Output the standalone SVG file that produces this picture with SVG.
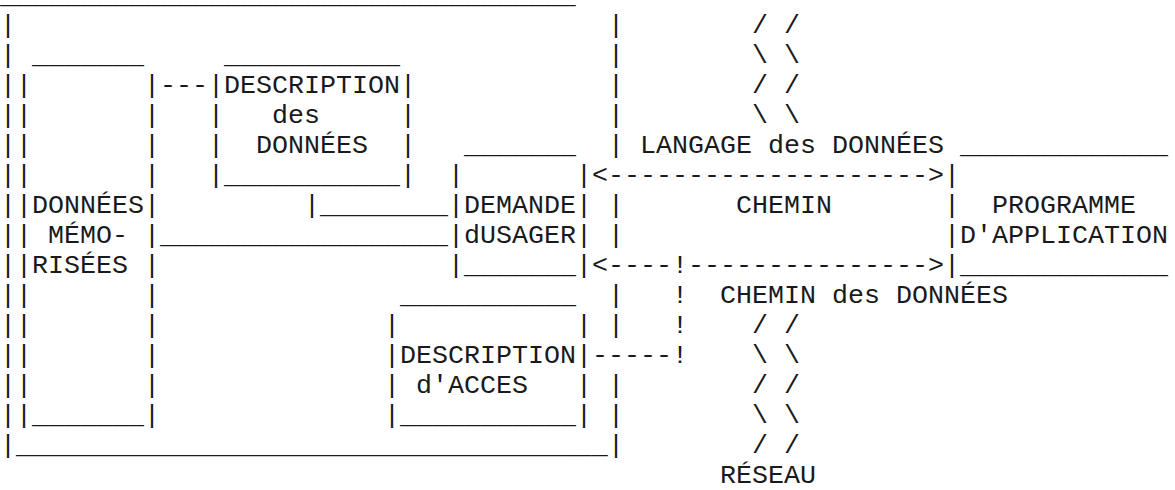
<svg xmlns="http://www.w3.org/2000/svg" width="1175" height="490" viewBox="0 0 1175 490" xml:space="preserve">
  <style>
    /* monospaced grid: 16px per column, 30px per row, baseline = 30*row + 3 */
    .t { font-family: "Courier New", "Nimbus Mono PS", "FreeMono", "Liberation Mono", monospace; font-size: 26.667px; fill: #1a1a1a; white-space: pre; }
  </style>
  <rect width="1175" height="490" fill="#fff"/>

  <!-- outer frame -->
  <g id="cadre">
    <text class="t" x="0" y="3">____________________________________</text>
    <text class="t"><tspan x="0" y="33">|</tspan><tspan x="0" y="63">|</tspan><tspan x="0" y="93">|</tspan><tspan x="0" y="123">|</tspan><tspan x="0" y="153">|</tspan><tspan x="0" y="183">|</tspan><tspan x="0" y="213">|</tspan><tspan x="0" y="243">|</tspan><tspan x="0" y="273">|</tspan><tspan x="0" y="303">|</tspan><tspan x="0" y="333">|</tspan><tspan x="0" y="363">|</tspan><tspan x="0" y="393">|</tspan><tspan x="0" y="423">|</tspan><tspan x="0" y="453">|</tspan></text>
    <text class="t" x="16" y="453">_____________________________________</text>
    <text class="t"><tspan x="608" y="33">|</tspan><tspan x="608" y="63">|</tspan><tspan x="608" y="93">|</tspan><tspan x="608" y="123">|</tspan><tspan x="608" y="153">|</tspan><tspan x="608" y="213">|</tspan><tspan x="608" y="243">|</tspan><tspan x="608" y="303">|</tspan><tspan x="608" y="333">|</tspan><tspan x="608" y="393">|</tspan><tspan x="608" y="423">|</tspan><tspan x="608" y="453">|</tspan></text>
  </g>

  <!-- stored data -->
  <g id="donnees-memorisees">
    <text class="t" x="32" y="63">_______</text>
    <text class="t"><tspan x="16" y="93">|</tspan><tspan x="16" y="123">|</tspan><tspan x="16" y="153">|</tspan><tspan x="16" y="183">|</tspan><tspan x="16" y="213">|</tspan><tspan x="16" y="243">|</tspan><tspan x="16" y="273">|</tspan><tspan x="16" y="303">|</tspan><tspan x="16" y="333">|</tspan><tspan x="16" y="363">|</tspan><tspan x="16" y="393">|</tspan><tspan x="16" y="423">|</tspan></text>
    <text class="t"><tspan x="144" y="93">|</tspan><tspan x="144" y="123">|</tspan><tspan x="144" y="153">|</tspan><tspan x="144" y="183">|</tspan><tspan x="144" y="213">|</tspan><tspan x="144" y="243">|</tspan><tspan x="144" y="273">|</tspan><tspan x="144" y="303">|</tspan><tspan x="144" y="333">|</tspan><tspan x="144" y="363">|</tspan><tspan x="144" y="393">|</tspan><tspan x="144" y="423">|</tspan></text>
    <text class="t" x="32" y="423">_______</text>
    <text class="t" x="32" y="213">DONNÉES</text>
    <text class="t" x="48" y="243">MÉMO-</text>
    <text class="t" x="32" y="273">RISÉES</text>
  </g>

  <!-- data description -->
  <g id="description-donnees">
    <text class="t" x="224" y="63">___________</text>
    <text class="t"><tspan x="208" y="93">|</tspan><tspan x="208" y="123">|</tspan><tspan x="208" y="153">|</tspan><tspan x="208" y="183">|</tspan></text>
    <text class="t"><tspan x="400" y="93">|</tspan><tspan x="400" y="123">|</tspan><tspan x="400" y="153">|</tspan><tspan x="400" y="183">|</tspan></text>
    <text class="t" x="224" y="183">___________</text>
    <text class="t" x="224" y="93">DESCRIPTION</text>
    <text class="t" x="272" y="123">des</text>
    <text class="t" x="256" y="153">DONNÉES</text>
  </g>

  <!-- user request -->
  <g id="demande-usager">
    <text class="t" x="464" y="153">_______</text>
    <text class="t"><tspan x="448" y="183">|</tspan><tspan x="448" y="213">|</tspan><tspan x="448" y="243">|</tspan><tspan x="448" y="273">|</tspan></text>
    <text class="t"><tspan x="576" y="183">|</tspan><tspan x="576" y="213">|</tspan><tspan x="576" y="243">|</tspan><tspan x="576" y="273">|</tspan></text>
    <text class="t" x="464" y="273">_______</text>
    <text class="t" x="464" y="213">DEMANDE</text>
    <text class="t" x="464" y="243">dUSAGER</text>
  </g>

  <!-- access description -->
  <g id="description-acces">
    <text class="t" x="400" y="303">___________</text>
    <text class="t"><tspan x="384" y="333">|</tspan><tspan x="384" y="363">|</tspan><tspan x="384" y="393">|</tspan><tspan x="384" y="423">|</tspan></text>
    <text class="t"><tspan x="576" y="333">|</tspan><tspan x="576" y="363">|</tspan><tspan x="576" y="393">|</tspan><tspan x="576" y="423">|</tspan></text>
    <text class="t" x="400" y="423">___________</text>
    <text class="t" x="400" y="363">DESCRIPTION</text>
    <text class="t" x="416" y="393">d'ACCES</text>
  </g>

  <!-- application program -->
  <g id="programme-application">
    <text class="t" x="960" y="153">_____________</text>
    <text class="t"><tspan x="944" y="183">|</tspan><tspan x="944" y="213">|</tspan><tspan x="944" y="243">|</tspan><tspan x="944" y="273">|</tspan></text>
    <text class="t" x="960" y="273">_____________</text>
    <text class="t" x="992" y="213">PROGRAMME</text>
    <text class="t" x="960" y="243">D'APPLICATION</text>
  </g>

  <!-- network zigzag -->
  <g id="reseau">
    <text class="t" x="752" y="33">/ /</text>
    <text class="t" x="752" y="63">\ \</text>
    <text class="t" x="752" y="93">/ /</text>
    <text class="t" x="752" y="123">\ \</text>
    <text class="t" x="752" y="333">/ /</text>
    <text class="t" x="752" y="363">\ \</text>
    <text class="t" x="752" y="393">/ /</text>
    <text class="t" x="752" y="423">\ \</text>
    <text class="t" x="752" y="453">/ /</text>
    <text class="t" x="720" y="483">RÉSEAU</text>
  </g>

  <!-- links and paths -->
  <g id="connecteurs">
    <text class="t" x="160" y="93">---</text>
    <text class="t" x="304" y="213">|________</text>
    <text class="t" x="160" y="243">__________________</text>
    <text class="t" x="592" y="183">&lt;--------------------&gt;</text>
    <text class="t" x="592" y="273">&lt;----!---------------&gt;</text>
    <text class="t"><tspan x="672" y="303">!</tspan><tspan x="672" y="333">!</tspan></text>
    <text class="t" x="592" y="363">-----!</text>
    <text class="t" x="640" y="153">LANGAGE des DONNÉES</text>
    <text class="t" x="736" y="213">CHEMIN</text>
    <text class="t" x="720" y="303">CHEMIN des DONNÉES</text>
  </g>
</svg>
